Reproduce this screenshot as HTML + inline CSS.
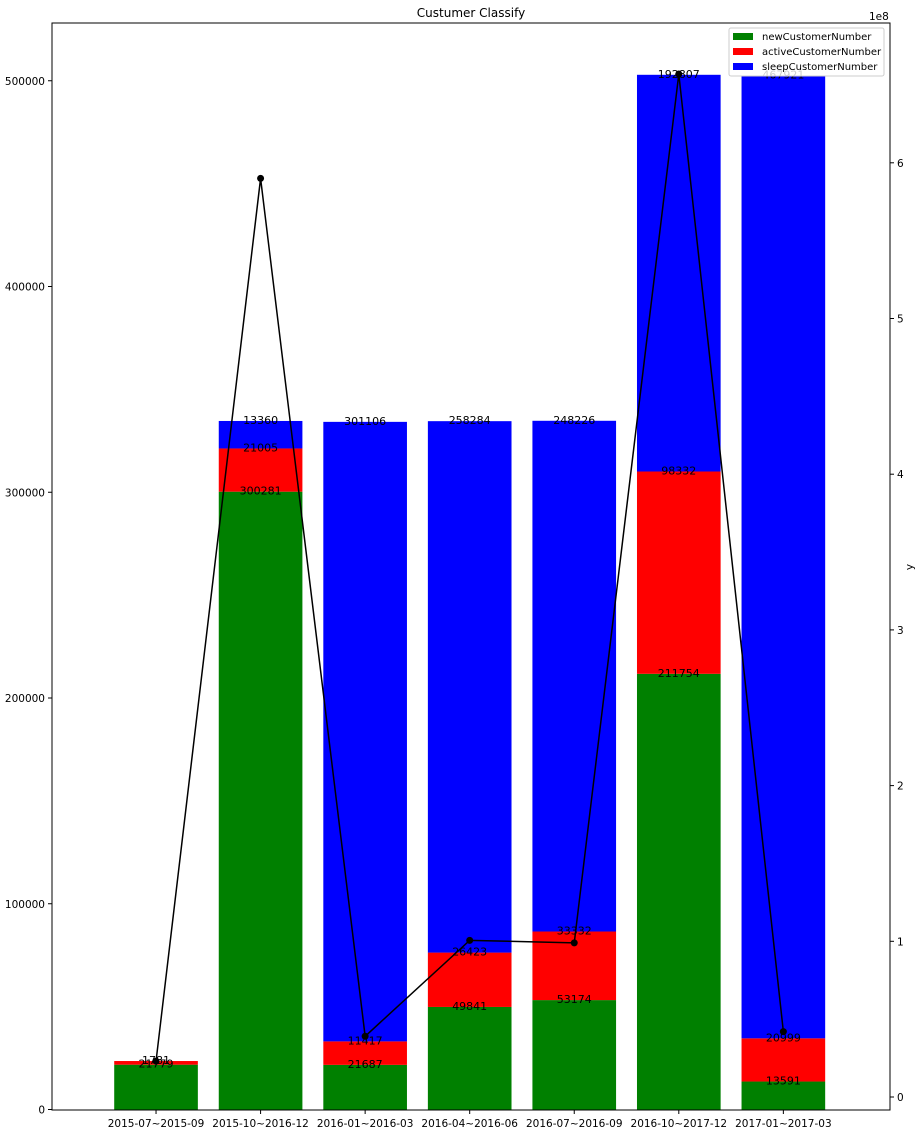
<!DOCTYPE html>
<html><head><meta charset="utf-8"><style>
html,body{margin:0;padding:0;background:#fff;}
svg{display:block;font-family:"DejaVu Sans","Liberation Sans",sans-serif;}
</style></head><body>
<svg id="chart" width="923" height="1134" xmlns="http://www.w3.org/2000/svg"></svg>
<script>
const categories = ["2015-07~2015-09","2015-10~2016-12","2016-01~2016-03","2016-04~2016-06","2016-07~2016-09","2016-10~2017-12","2017-01~2017-03"];
const newCustomer = [21779,300281,21687,49841,53174,211754,13591];
const activeCustomer = [1781,21005,11417,26423,33332,98332,20999];
const sleepCustomer = [0,13360,301106,258284,248226,192807,467921];
const lineValues = [0.23,5.9,0.39,1.006,0.99,6.57,0.42];
const leftTicks = [0,100000,200000,300000,400000,500000];
const rightTicks = [0,1,2,3,4,5,6];

const NS="http://www.w3.org/2000/svg";
const svg=document.getElementById('chart');
const L=52,R=890,T=23,B=1110;
const xMin=-0.995,xMax=7.02;
const yPer=205.75;
const X=v=>L+(v-xMin)/(xMax-xMin)*(R-L);
const Y=v=>B-0.5-v/100000*yPer;
const r0=1097,rPer=155.7;
const Y2=v=>r0-v*rPer;
function mk(tag,attrs,parent){const e=document.createElementNS(NS,tag);for(const k in attrs)e.setAttribute(k,attrs[k]);(parent||svg).appendChild(e);return e;}
const bw=0.8*(R-L)/(xMax-xMin);

const bars=mk('g',{});


const labels=[];
categories.forEach((c,i)=>{
  const segs=[[newCustomer[i],'#008000','new'],[activeCustomer[i],'#ff0000','active'],[sleepCustomer[i],'#0000ff','sleep']];
  let base=0;
  segs.forEach(s=>{
    if(s[0]>0){
      const r=mk('rect',{x:X(i)-bw/2,y:Y(base+s[0]),width:bw,height:Y(base)-Y(base+s[0]),fill:s[1]},bars);
      
      
      labels.push([X(i),Y(base+s[0]),s[0],s[2]+'-'+i]);
    }
    base+=s[0];
  });
});
const pts=lineValues.map((v,i)=>X(i)+','+Y2(v)).join(' ');
const pl=mk('polyline',{points:pts,fill:'none',stroke:'#000','stroke-width':1.5});


lineValues.forEach((v,i)=>{
  const c=mk('circle',{cx:X(i),cy:Y2(v),r:3.5,fill:'#000'});
  
  
});
labels.forEach(l=>{
  const t=mk('text',{x:l[0],y:l[1]+3,'text-anchor':'middle','font-size':11,fill:'#000'});
  t.textContent=l[2];
  
  
});
const fr=mk('rect',{x:L,y:T,width:R-L,height:B-T,fill:'none',stroke:'#000','stroke-width':1});


leftTicks.forEach(v=>{
  mk('line',{x1:L-4,x2:L,y1:Y(v),y2:Y(v),stroke:'#000'});
  const t=mk('text',{x:L-7,y:Y(v)+4,'text-anchor':'end','font-size':10.5});
  t.textContent=v;
  
  
});
rightTicks.forEach(v=>{
  mk('line',{x1:R,x2:R+4,y1:Y2(v),y2:Y2(v),stroke:'#000'});
  const t=mk('text',{x:R+7,y:Y2(v)+4,'font-size':10.5});
  t.textContent=v;
  
  
});
categories.forEach((c,i)=>{
  mk('line',{x1:X(i),x2:X(i),y1:B,y2:B+4,stroke:'#000'});
  const t=mk('text',{x:X(i),y:B+17,'text-anchor':'middle','font-size':10.5});
  t.textContent=c;
  
  
});
</script>
<div style="position:absolute;left:0;top:0;width:923px;height:1134px;pointer-events:none;">
<svg width="923" height="1134" xmlns="http://www.w3.org/2000/svg" style="font-family:'DejaVu Sans','Liberation Sans',sans-serif;">
<text x="471" y="17" text-anchor="middle" font-size="12">Custumer Classify</text>
<text x="869" y="20" font-size="10.5">1e8</text>
<text x="913" y="567" font-size="10.5" text-anchor="middle" transform="rotate(-90 913 567)">y</text>
<g>
<rect x="729" y="28" width="155" height="48" fill="#fff" fill-opacity="0.8" stroke="#ccc" rx="2"/>
<rect x="733" y="33" width="20" height="7" fill="#008000"/>
<text x="762" y="40" font-size="10">newCustomerNumber</text>
<rect x="733" y="48" width="20" height="7" fill="#ff0000"/>
<text x="762" y="55" font-size="10">activeCustomerNumber</text>
<rect x="733" y="63" width="20" height="7" fill="#0000ff"/>
<text x="762" y="70" font-size="10">sleepCustomerNumber</text>
</g>
</svg></div>
</body></html>
